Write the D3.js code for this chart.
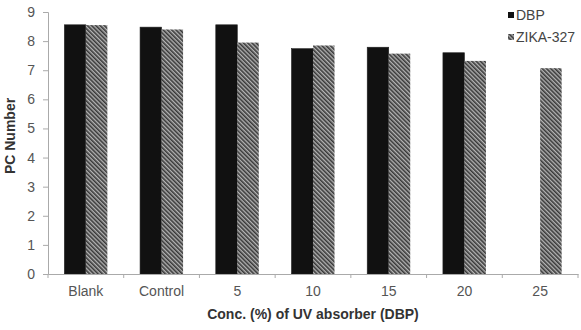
<!DOCTYPE html>
<html>
<head>
<meta charset="utf-8">
<script src="https://cdn.jsdelivr.net/npm/d3@7"></script>
<style>
  body { margin: 0; background: #fff; }
  svg { display: block; font-family: "Liberation Sans", Arial, sans-serif; }
</style>
</head>
<body>
<div id="chart"></div>
<script>
// data
const categories = ['Blank', 'Control', '5', '10', '15', '20', '25'];
const seriesNames = ['DBP', 'ZIKA-327'];
const dbpValues = [8.56, 8.48, 8.56, 7.74, 7.79, 7.60, null];
const zikaValues = [8.55, 8.40, 7.95, 7.85, 7.57, 7.32, 7.07];
const yTicks = [0, 1, 2, 3, 4, 5, 6, 7, 8, 9];

const width = 581, height = 330;
const margin = { left: 48, right: 3, top: 12, bottom: 56 };

const svg = d3.select('#chart')
    .append('svg')
    .attr('width', width)
    .attr('height', height);

// hatch for the second series
const defs = svg.append('defs');
const pat = defs.append('pattern')
    .attr('id', 'hatch')
    .attr('patternUnits', 'userSpaceOnUse')
    .attr('width', 3)
    .attr('height', 3)
    .attr('patternTransform', 'rotate(-45)');
pat.append('rect')
    .attr('width', 3)
    .attr('height', 3)
    .style('fill', '#b4b4b4');
pat.append('line')
    .attr('x1', 0.8).attr('y1', 0)
    .attr('x2', 0.8).attr('y2', 3)
    .style('stroke', '#383838')
    .style('stroke-width', 1.6);

const x0 = d3.scaleBand()
    .domain(categories)
    .range([margin.left, width - margin.right]);

const bw = x0.bandwidth();
const x1 = d3.scaleBand()
    .domain(seriesNames)
    .range([bw * 0.216, bw * 0.784]);

const y = d3.scaleLinear()
    .domain([0, 9])
    .range([height - margin.bottom, margin.top]);

// bars
const rows = categories.map((c, i) => ({ cat: c, vals: [dbpValues[i], zikaValues[i]] }));

const groups = svg.append('g')
    .selectAll('g')
    .data(rows)
    .join('g')
    .attr('transform', d => 'translate(' + x0(d.cat) + ',0)');

groups.selectAll('rect')
    .data(d => d.vals.map((v, j) => ({ key: seriesNames[j], v: v })).filter(d => d.v != null))
    .join('rect')
    .attr('x', d => x1(d.key))
    .attr('y', d => y(d.v))
    .attr('width', x1.bandwidth())
    .attr('height', d => y(0) - y(d.v))
    .style('fill', d => d.key === 'DBP' ? '#111' : 'url(#hatch)')
    .style('stroke', d => d.key === 'DBP' ? '#222' : 'none')
    .style('stroke-width', 0.6);

// y axis
const yAxis = svg.append('g')
    .attr('transform', 'translate(' + margin.left + ',0)')
    .call(d3.axisLeft(y).tickValues(yTicks).tickSize(5).tickPadding(8));

// x axis, ticks on category boundaries
const xAxis = svg.append('g')
    .attr('transform', 'translate(0,' + y(0) + ')')
    .call(d3.axisBottom(x0).tickSize(0).tickPadding(12));

xAxis.selectAll('.bound')
    .data(categories.concat(['_end']))
    .join('line')
    .attr('class', 'bound')
    .attr('x1', (d, i) => margin.left + i * bw)
    .attr('x2', (d, i) => margin.left + i * bw)
    .attr('y1', 0)
    .attr('y2', 4);

[yAxis, xAxis].forEach(a => {
    a.select('.domain').style('stroke', '#aaa');
    a.selectAll('line').style('stroke', '#aaa');
    a.selectAll('text')
        .style('font-size', '14px')
        .style('fill', '#555')
        .style('font-family', '"Liberation Sans", Arial, sans-serif');
});

// titles
svg.append('text')
    .attr('transform', 'translate(15,136) rotate(-90)')
    .attr('text-anchor', 'middle')
    .style('font-size', '14px')
    .style('font-weight', 700)
    .style('fill', '#333')
    .text('PC Number');

svg.append('text')
    .attr('x', (margin.left + width - margin.right) / 2 + 0)
    .attr('y', 319)
    .attr('text-anchor', 'middle')
    .style('font-size', '14px')
    .style('font-weight', 700)
    .style('fill', '#333')
    .text('Conc. (%) of UV absorber (DBP)');

// legend
const legend = svg.append('g')
    .attr('transform', 'translate(508,0)');

seriesNames.forEach((name, i) => {
    let yy = 15 + i * 22;
    legend.append('rect')
        .attr('x', 0)
        .attr('y', yy - 3)
        .attr('width', 6)
        .attr('height', 6)
        .style('fill', i === 0 ? '#111' : 'url(#hatch)');
    legend.append('text')
        .attr('x', 8)
        .attr('y', yy + 5)
        .style('font-size', '14px')
        .style('fill', '#444')
        .text(name);
});
</script>
</body>
</html>
